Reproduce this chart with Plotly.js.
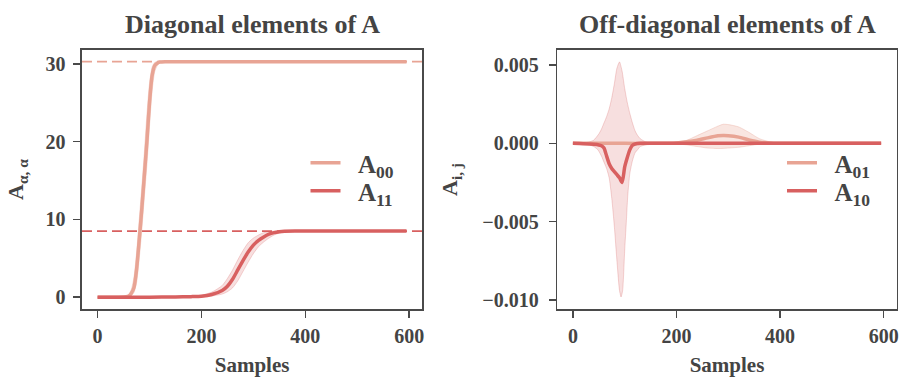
<!DOCTYPE html>
<html>
<head>
<meta charset="utf-8">
<script src="https://cdn.plot.ly/plotly-3.0.1.min.js"></script>
<style>html,body{margin:0;padding:0;background:#fff;}#chart{width:901px;height:377px;}</style>
</head>
<body>
<div id="chart"></div>
<script>
// ---------- Left panel: diagonal elements ----------
const a00X   = [0, 40, 50, 55, 60, 65, 70, 75, 80, 85, 90, 95, 100, 105, 110, 115, 120, 130, 150, 595];
const a00Y   = [0, 0, 0.02, 0.05, 0.15, 0.5, 1.2, 3.5, 7.2, 11.2, 15.6, 20.0, 25.0, 28.5, 29.8, 30.1, 30.25, 30.3, 30.3, 30.3];
const a00Hi  = [0, 0, 0.05, 0.12, 0.35, 1.0, 2.5, 5.6, 9.8, 14.0, 18.5, 23.5, 27.5, 29.6, 30.2, 30.3, 30.3, 30.3, 30.3, 30.3];
const a00Lo  = [0, 0, 0, 0.01, 0.05, 0.2, 0.6, 1.8, 4.8, 8.5, 12.8, 17.0, 22.0, 26.5, 29.0, 29.8, 30.15, 30.3, 30.3, 30.3];

const a11X   = [0, 100, 150, 180, 200, 220, 240, 250, 260, 270, 280, 290, 300, 310, 320, 330, 340, 350, 360, 380, 595];
const a11Y   = [0, 0, 0.02, 0.07, 0.13, 0.35, 0.85, 1.4, 2.3, 3.5, 4.7, 5.8, 6.7, 7.3, 7.75, 8.1, 8.3, 8.42, 8.48, 8.5, 8.5];
const a11Hi  = [0, 0, 0.04, 0.12, 0.25, 0.65, 1.5, 2.4, 3.5, 4.8, 6.0, 7.0, 7.6, 8.0, 8.3, 8.45, 8.5, 8.5, 8.5, 8.5, 8.5];
const a11Lo  = [0, 0, 0.01, 0.03, 0.06, 0.15, 0.4, 0.7, 1.2, 2.1, 3.3, 4.5, 5.6, 6.5, 7.1, 7.6, 8.0, 8.25, 8.4, 8.5, 8.5];

const trueDiag = [30.3, 8.5];

// ---------- Right panel: off-diagonal elements ----------
const a01X   = [0, 50, 100, 150, 200, 220, 240, 260, 280, 290, 300, 320, 340, 360, 380, 400, 595];
const a01Y   = [0, 0, 0, 0, 0.00003, 0.0001, 0.0002, 0.00035, 0.00048, 0.0005, 0.00049, 0.0004, 0.00022, 0.00008, 0.00002, 0, 0];
const a01Hi  = [0, 0, 0, 0, 0.0001, 0.0002, 0.0005, 0.0008, 0.0011, 0.00122, 0.0012, 0.00105, 0.0007, 0.0003, 0.0001, 0, 0];
const a01Lo  = [0, 0, 0, 0, -0.00003, -0.0001, -0.0002, -0.0003, -0.00033, -0.00032, -0.0003, -0.00025, -0.00015, -0.00005, 0, 0, 0];

const a10X   = [0, 20, 40, 50, 55, 60, 65, 70, 75, 80, 85, 90, 95, 100, 105, 110, 115, 120, 130, 150, 595];
const a10Y   = [0, -0.00002, -0.00006, -0.0001, -0.00015, -0.0003, -0.0008, -0.0013, -0.0016, -0.0018, -0.002, -0.0022, -0.0025, -0.0015, -0.0009, -0.0004, -0.00012, -0.00004, 0, 0, 0];
const a10HiX = [0, 20, 30, 40, 50, 55, 60, 65, 70, 75, 80, 85, 90, 95, 100, 105, 110, 115, 120, 125, 130, 140, 150, 595];
const a10Hi  = [0, 0.00002, 0.00008, 0.0002, 0.0006, 0.0009, 0.0013, 0.0017, 0.0022, 0.0029, 0.0038, 0.0048, 0.0052, 0.0046, 0.0035, 0.0026, 0.0019, 0.0013, 0.0008, 0.0005, 0.0003, 0.0001, 0.00003, 0];
const a10LoX = [0, 20, 30, 40, 48, 55, 60, 65, 70, 75, 80, 85, 90, 93, 96, 100, 103, 106, 110, 115, 120, 125, 130, 140, 150, 595];
const a10Lo  = [0, -0.00002, -0.00008, -0.0002, -0.0004, -0.0008, -0.0012, -0.0016, -0.0022, -0.0035, -0.0053, -0.0075, -0.0094, -0.0098, -0.0094, -0.0068, -0.0051, -0.0033, -0.0019, -0.0011, -0.0006, -0.0004, -0.0002, -0.0001, -0.00003, 0];

const xTicks = [0, 200, 400, 600];
const yTicksL = [0, 10, 20, 30];
const yTicksR = [-0.010, -0.005, 0.000, 0.005];
const yTickTextR = ['\u22120.010', '\u22120.005', '0.000', '0.005'];
const legNames = ['A<sub>00</sub>', 'A<sub>11</sub>', 'A<sub>01</sub>', 'A<sub>10</sub>'];

const cLight = 'rgb(232,164,148)';
const cDark  = 'rgb(216,96,96)';
const fLight = 'rgba(232,164,148,0.28)';
const fDark  = 'rgba(216,96,96,0.2)';
const eLight = 'rgba(232,164,148,0.35)';
const eDark  = 'rgba(216,96,96,0.25)';
const txt = '#444444';
const FONT = 'Liberation Serif, Times New Roman, serif';
const PAD = '\u00a0\u00a0';

function band(x, lo, xhi, hi, fill, edge, xa, ya) {
  return [
    {x: x, y: lo, xaxis: xa, yaxis: ya, mode: 'lines', line: {color: edge, width: 1, shape: 'spline', smoothing: 0.6}, showlegend: false, hoverinfo: 'skip'},
    {x: xhi, y: hi, xaxis: xa, yaxis: ya, mode: 'lines', line: {color: edge, width: 1, shape: 'spline', smoothing: 0.6}, fill: 'tonexty', fillcolor: fill, showlegend: false, hoverinfo: 'skip'}
  ];
}
function meanLine(x, y, color, name, xa, ya, leg) {
  return {x: x, y: y, xaxis: xa, yaxis: ya, mode: 'lines', name: PAD + name, legend: leg,
          line: {color: color, width: 3.5, shape: 'spline', smoothing: 0.6}, hoverinfo: 'skip'};
}

const traces = [].concat(
  band(a00X, a00Lo, a00X, a00Hi, fLight, eLight, 'x', 'y'),
  band(a11X, a11Lo, a11X, a11Hi, fDark, eDark, 'x', 'y'),
  [meanLine(a00X, a00Y, cLight, legNames[0], 'x', 'y', 'legend'),
   meanLine(a11X, a11Y, cDark, legNames[1], 'x', 'y', 'legend2')],
  band(a01X, a01Lo, a01X, a01Hi, fLight, eLight, 'x2', 'y2'),
  band(a10LoX, a10Lo, a10HiX, a10Hi, fDark, eDark, 'x2', 'y2'),
  [meanLine(a01X, a01Y, cLight, legNames[2], 'x2', 'y2', 'legend3'),
   meanLine(a10X, a10Y, cDark, legNames[3], 'x2', 'y2', 'legend4')]
);

const axBase = {
  showline: true, mirror: true, linecolor: '#4a4a4a', linewidth: 1.6,
  ticks: 'outside', ticklen: 7, tickwidth: 1.5, tickcolor: '#4a4a4a',
  showgrid: false, zeroline: false,
  tickfont: {family: FONT, size: 20, color: txt, weight: 'bold'}
};
const titleFont = {family: FONT, size: 21, color: txt, weight: 'bold'};
const yTitleFont = {family: FONT, size: 22, color: txt, weight: 'bold'};
const legFont = {family: FONT, size: 25, color: txt, weight: 'bold'};

function leg(xpx, ypx) {
  return {x: xpx / 901, y: 1 - ypx / 377, xanchor: 'left', yanchor: 'middle', bgcolor: 'rgba(0,0,0,0)', borderwidth: 0,
          traceorder: 'normal', font: legFont, itemwidth: 30, tracegroupgap: 0};
}

const layout = {
  width: 901, height: 377,
  margin: {l: 0, r: 0, t: 0, b: 0},
  paper_bgcolor: '#fff', plot_bgcolor: '#fff',
  font: {family: FONT, color: txt},
  xaxis: Object.assign({}, axBase, {domain: [0.091, 0.4685], range: [-30, 625], tickvals: xTicks, anchor: 'y',
        ticklabelstandoff: 1, title: {text: 'Samples', font: titleFont, standoff: 16}}),
  yaxis: Object.assign({}, axBase, {domain: [0.1804, 0.8674], range: [-1.52, 31.8], tickvals: yTicksL, anchor: 'x',
        ticklabelstandoff: 4, title: {text: 'A<sub>\u03b1, \u03b1</sub>', font: yTitleFont, standoff: 15}}),
  xaxis2: Object.assign({}, axBase, {domain: [0.6186, 0.9952], range: [-30, 625], tickvals: xTicks, anchor: 'y2',
        ticklabelstandoff: 1, title: {text: 'Samples', font: titleFont, standoff: 16}}),
  yaxis2: Object.assign({}, axBase, {domain: [0.1804, 0.8674], range: [-0.01057, 0.00596], tickvals: yTicksR, ticktext: yTickTextR, anchor: 'x2',
        ticklabelstandoff: 6, title: {text: 'A<sub>i, j</sub>', font: yTitleFont, standoff: 18}}),
  shapes: [
    {type: 'line', xref: 'x domain', yref: 'y', x0: 0, x1: 1, y0: trueDiag[0], y1: trueDiag[0], layer: 'below',
     line: {color: cLight, width: 1.8, dash: '10px,5px'}},
    {type: 'line', xref: 'x domain', yref: 'y', x0: 0, x1: 1, y0: trueDiag[1], y1: trueDiag[1], layer: 'below',
     line: {color: cDark, width: 1.8, dash: '10px,5px'}}
  ],
  annotations: [
    {text: 'Diagonal elements of A', xref: 'paper', yref: 'paper', x: 0.2797, y: 1 - 25/377, xanchor: 'center', yanchor: 'middle',
     showarrow: false, font: {family: FONT, size: 26, color: txt, weight: 'bold'}},
    {text: 'Off-diagonal elements of A', xref: 'paper', yref: 'paper', x: 0.8069, y: 1 - 25/377, xanchor: 'center', yanchor: 'middle',
     showarrow: false, font: {family: FONT, size: 26, color: txt, weight: 'bold'}}
  ],
  legend:  leg(305.5, 163),
  legend2: leg(305.5, 191),
  legend3: leg(782, 163),
  legend4: leg(782, 191)
};

Plotly.newPlot('chart', traces, layout, {staticPlot: true, displayModeBar: false});
</script>
</body>
</html>
